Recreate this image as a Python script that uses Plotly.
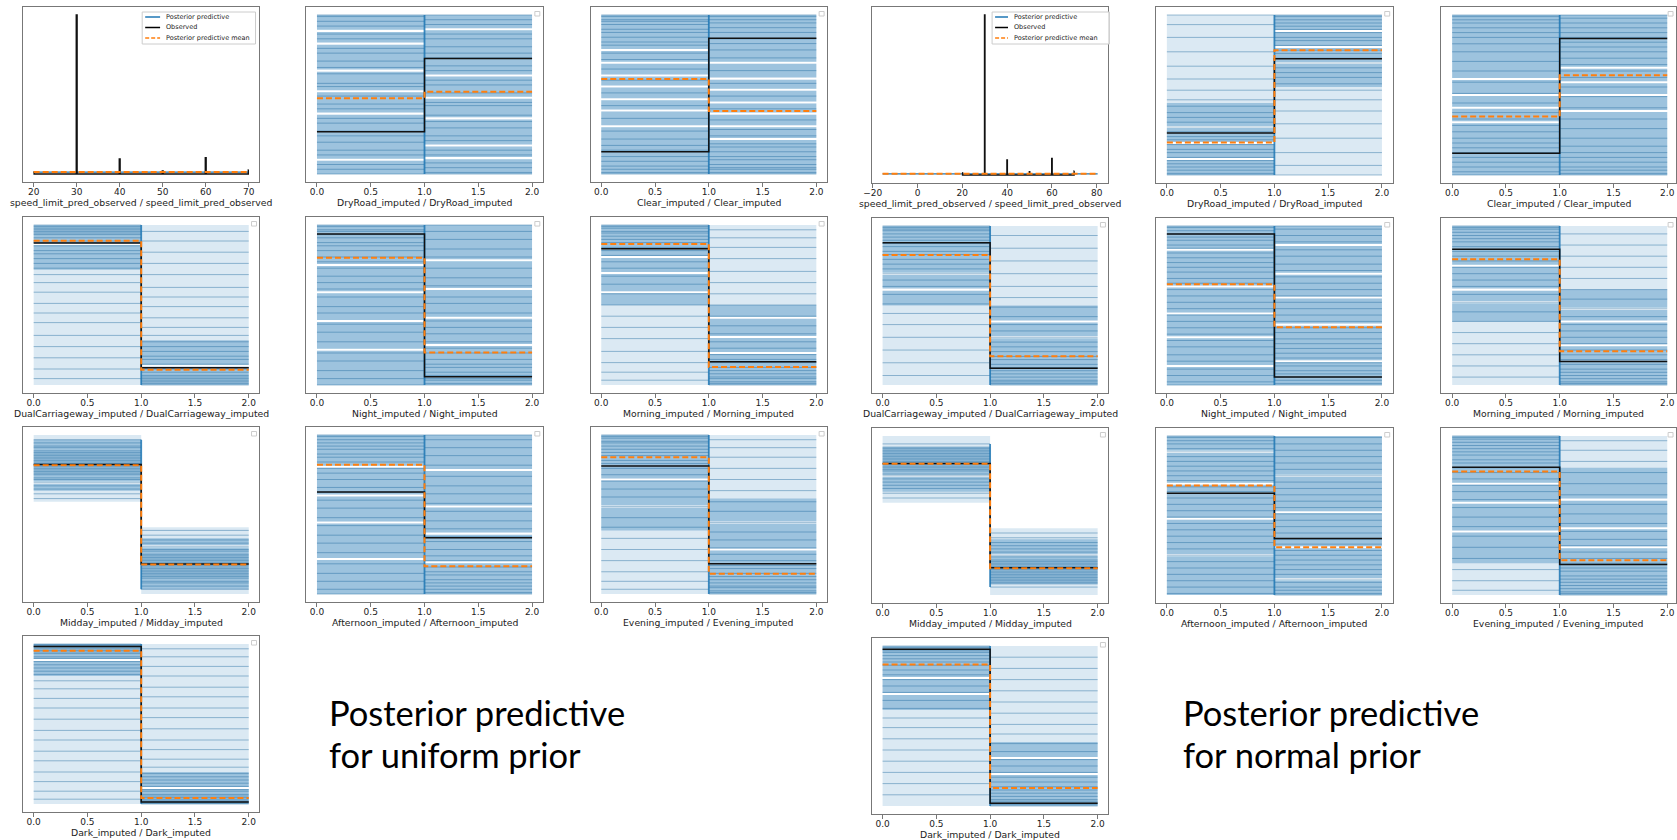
import plotly.graph_objects as go

W, H = 1677, 840

# ---------------- data ----------------
# speed limit panel (observed relative frequencies)
speed_values = [20, 30, 40, 50, 60, 70]
speed_observed = [0.012, 0.796, 0.075, 0.016, 0.082, 0.020]
speed_pp_span_uniform = [20, 70]
speed_pp_span_normal = [-15.6, 80.4]
speed_pp_level_uniform = 0.010
speed_pp_level_normal = 0.006

binary_names = ["DryRoad", "Clear", "DualCarriageway", "Night", "Morning",
                "Midday", "Afternoon", "Evening", "Dark"]

# binary panels: values in % of each panel's posterior-predictive range
# (the y axis carries no scale); "_0" = value over bin 0..1, "_1" = bin 1..2.
# Posterior predictive samples are given by their bin-0 value (bin 1 = 100 - it).
uniform_obs_0 = [26.6, 14.0, 88.8, 94.4, 85.1, 81.5, 64.2, 80.5, 98.5]
uniform_obs_1 = [72.7, 85.3, 10.8, 5.2, 14.5, 18.9, 35.4, 19.1, 1.3]
uniform_mean_0 = [47.6, 59.7, 90.2, 79.5, 88.2, 81.0, 81.3, 86.0, 95.8]
uniform_mean_1 = [51.8, 39.6, 9.5, 20.3, 11.2, 18.5, 17.4, 12.8, 3.8]
uniform_range_0 = [(0, 100), (0, 100), (0, 100), (0, 100), (0, 100), (58, 100), (0, 100), (0, 100), (0, 100)]
uniform_dense_0 = [(0, 100), (0, 100), (72, 100), (0, 100), (50, 100), (65, 97), (0, 100), (40, 100), (80, 100)]
uniform_sparse_0 = [[90, 82, 65, 52, 38, 9], [78, 70, 62, 55, 47, 40, 30], [88], [75, 58, 40, 22],
                    [80, 70, 58], [70], [80, 62, 45, 22], [72, 55], [90]]
uniform_samples_0 = [
    [100, 99, 96, 93, 88, 85, 79, 76, 71, 67, 63, 57, 55, 49, 44, 41, 35, 32, 27, 24, 20, 15, 12, 6, 3, 0],
    [100, 99, 97, 96, 94, 91, 89, 86, 83, 81, 76, 72, 66, 59, 51, 43, 35, 27, 22, 18, 15, 11, 8, 5, 3, 1, 0],
    [100, 99, 98, 97, 96, 95, 94, 92, 90, 89, 87, 84, 82, 79, 76, 73, 69, 64, 58, 51, 45, 39, 31, 24, 17, 10, 4],
    [100, 99, 97, 96, 94, 92, 89, 87, 84, 80, 77, 73, 68, 64, 60, 55, 49, 45, 38, 33, 27, 20, 15, 9, 4, 0],
    [100, 99, 98, 96, 95, 93, 91, 89, 86, 84, 81, 77, 73, 68, 63, 57, 50, 43, 36, 29, 21, 14, 8, 3],
    [97, 95, 93, 92, 90, 89, 88, 87, 86, 85, 84, 83, 82, 81, 80, 79, 78, 77, 76, 75, 73, 72, 70, 68, 66, 63, 60],
    [100, 99, 97, 95, 93, 91, 88, 86, 83, 79, 76, 72, 67, 64, 59, 54, 48, 43, 37, 32, 26, 19, 13, 8, 3, 0],
    [100, 99, 98, 96, 95, 93, 91, 89, 87, 84, 82, 79, 75, 71, 66, 61, 55, 48, 42, 35, 28, 21, 14, 8, 3],
    [100, 99.5, 99, 98.5, 98, 97, 96, 95, 94, 92, 91, 89, 87, 85, 83, 81, 77, 72, 66, 60, 53, 46, 40, 33, 27, 20, 14, 8, 3],
]

normal_obs_0 = [26.2, 13.6, 89.4, 95.0, 85.4, 82.7, 64.0, 80.4, 97.9]
normal_obs_1 = [72.7, 85.3, 10.6, 5.0, 14.8, 17.1, 35.6, 19.2, 1.7]
normal_mean_0 = [20.3, 36.5, 81.7, 63.4, 79.0, 82.5, 68.8, 77.7, 88.4]
normal_mean_1 = [78.0, 62.3, 18.1, 36.4, 21.2, 16.9, 30.0, 21.9, 11.2]
normal_range_0 = [(0, 100), (0, 100), (0, 100), (0, 100), (0, 100), (58, 100), (0, 100), (0, 100), (0, 100)]
normal_dense_0 = [(0, 45), (0, 100), (50, 100), (0, 100), (40, 100), (65, 93), (0, 100), (20, 100), (60, 100)]
normal_sparse_0 = [[30, 20, 10], [60, 50, 42, 33], [70, 60], [85, 62, 45, 30, 12], [75, 60, 52],
                   [75], [90, 70, 48, 25], [70, 58, 40], [80, 70]]
normal_samples_0 = [
    [100, 94, 86, 77, 68, 60, 53, 47, 43, 39, 36, 33, 30, 27, 24, 22, 19, 16, 14, 11, 9, 7, 5, 3, 1, 0],
    [100, 99, 97, 95, 92, 89, 86, 82, 77, 71, 65, 58, 51, 45, 39, 35, 31, 27, 23, 20, 17, 14, 11, 8, 5, 2, 0],
    [100, 99, 98, 97, 95, 93, 91, 89, 87, 84, 82, 79, 76, 73, 70, 66, 62, 57, 51, 45, 38, 30, 22, 14, 6],
    [100, 99, 97, 95, 93, 91, 88, 86, 83, 80, 77, 74, 71, 67, 64, 60, 56, 52, 48, 44, 40, 36, 32, 28, 24, 19, 15, 10, 6, 2, 0],
    [100, 99, 98, 96, 94, 92, 90, 87, 84, 81, 78, 74, 70, 66, 62, 57, 52, 46, 40, 33, 26, 19, 12, 5],
    [95, 93, 92, 91, 90, 89, 88, 87, 86, 85, 84, 83, 82, 81, 80, 79, 78, 76, 75, 73, 71, 69, 67, 64, 61],
    [100, 99, 97, 95, 92, 90, 87, 84, 81, 78, 75, 72, 68, 65, 61, 57, 53, 49, 45, 41, 37, 33, 29, 25, 21, 17, 13, 9, 5, 1],
    [100, 99, 98, 96, 94, 92, 90, 88, 85, 83, 80, 77, 73, 69, 65, 60, 55, 49, 43, 37, 30, 23, 16, 9, 3],
    [100, 99, 98, 97, 96, 94, 92, 90, 88, 85, 82, 79, 75, 71, 66, 61, 55, 49, 42, 35, 28, 21, 14, 7],
]

# ---------------- styling / layout ----------------
C0 = "#1f77b4"
ORANGE = "#ff7f0e"
FRAME = "#777777"
TXT = "#222222"
FONT = "DejaVu Sans"
PANEL_W = 238
GAP_W = 1.3
group_cols = {"uniform": [14, 299, 585], "normal": [868, 1154, 1441]}
group_rows = {"uniform": [(7, 182), (217, 393), (427, 602), (636, 812)],
              "normal": [(7, 183), (218, 393), (428, 603), (638, 814)]}

fig = go.Figure()
layout_axes = {}
annotations = []
shapes = []


def ax_names(n):
    s = "" if n == 1 else str(n)
    return "x" + s, "y" + s, "xaxis" + s, "yaxis" + s


def setup_axes(n, left, top, bottom, xr, yr, dtick, fmt, label):
    right = left + PANEL_W
    if right > W:
        per_px = (xr[1] - xr[0]) / PANEL_W
        xr = [xr[0], xr[0] + (W - left) * per_px]
        right = W
    xa, ya, xk, yk = ax_names(n)
    layout_axes[xk] = dict(
        domain=[left / W, right / W], range=xr, anchor=ya,
        showline=True, mirror=True, linecolor=FRAME, linewidth=1,
        ticks="outside", ticklen=3.5, tickwidth=1, tickcolor=FRAME,
        ticklabelstandoff=-2,
        tick0=0, dtick=dtick, tickformat=fmt,
        tickfont=dict(family=FONT, size=9, color=TXT),
        showgrid=False, zeroline=False)
    layout_axes[yk] = dict(
        domain=[1 - bottom / H, 1 - top / H], range=yr, anchor=xa,
        showline=True, mirror=True, linecolor=FRAME, linewidth=1,
        showticklabels=False, ticks="", showgrid=False, zeroline=False)
    annotations.append(dict(
        text=label, xref=xa + " domain", yref=ya + " domain", x=0.5, y=0,
        xanchor="center", yanchor="middle", yshift=-20, showarrow=False,
        font=dict(family=FONT, size=9.3, color=TXT)))
    return xa, ya


def add_speed_panel(n, left, top, bottom, pp_span, pp_level):
    lo = min(speed_values[0], pp_span[0])
    hi = max(speed_values[-1], pp_span[1])
    d = hi - lo
    ymax = max(speed_observed)
    xa, ya = setup_axes(n, left, top, bottom, [lo - 0.05 * d, hi + 0.05 * d],
                        [-0.05 * ymax, 1.05 * ymax], 10 if d < 70 else 20, "",
                        "speed_limit_pred_observed / speed_limit_pred_observed")
    fig.add_trace(go.Scatter(x=pp_span, y=[pp_level, pp_level], mode="lines",
                             line=dict(color=C0, width=1.2), xaxis=xa, yaxis=ya,
                             showlegend=False, hoverinfo="skip"))
    w = 0.1
    xs, ys = [], []
    for k, (v, h) in enumerate(zip(speed_values, speed_observed)):
        if k == 0:
            xs += [v, v + w, v + w]
            ys += [h, h, 0]
        elif k == len(speed_values) - 1:
            xs += [v - w, v - w, v]
            ys += [0, h, h]
        else:
            xs += [v - w, v - w, v + w, v + w]
            ys += [0, h, h, 0]
    fig.add_trace(go.Scatter(x=xs, y=ys, mode="lines",
                             line=dict(color="#111111", width=1.4), xaxis=xa, yaxis=ya,
                             showlegend=False, hoverinfo="skip"))
    fig.add_trace(go.Scatter(x=pp_span, y=[pp_level, pp_level], mode="lines",
                             line=dict(color=ORANGE, width=2, dash="6px,3px"),
                             xaxis=xa, yaxis=ya, showlegend=False, hoverinfo="skip"))


def band_paths(intervals):
    xs, ys = [], []
    for lo, hi in intervals:
        xs += [0, 1, 1, 0, 0, None, 1, 2, 2, 1, 1, None]
        ys += [lo, lo, hi, hi, lo, None, 100 - hi, 100 - hi, 100 - lo, 100 - lo, 100 - hi, None]
    return xs, ys


def split_band(lo, hi, gaps):
    cuts = sorted(g for g in gaps if lo < g < hi)
    out, cur = [], lo
    for g in cuts:
        out.append((cur, g - GAP_W / 2))
        cur = g + GAP_W / 2
    out.append((cur, hi))
    return out


def add_binary_panel(n, left, top, bottom, name, obs0, obs1, mean0, mean1, rng, dense, gaps, samples):
    xa, ya = setup_axes(n, left, top, bottom, [-0.1, 2.1], [-5, 105], 0.5, ".1f",
                        f"{name}_imputed / {name}_imputed")
    for ivs, col in ((split_band(rng[0], rng[1], gaps), "rgba(31,119,180,0.16)"),
                     (split_band(dense[0], dense[1], gaps), "rgba(31,119,180,0.33)")):
        bx, by = band_paths(ivs)
        fig.add_trace(go.Scatter(x=bx, y=by, mode="lines", fill="toself", fillcolor=col,
                                 line=dict(width=0), xaxis=xa, yaxis=ya,
                                 showlegend=False, hoverinfo="skip"))
    xs, ys = [], []
    for v in samples:
        xs += [0, 1, None, 1, 2, None]
        ys += [v, v, None, 100 - v, 100 - v, None]
    fig.add_trace(go.Scatter(x=xs, y=ys, mode="lines",
                             line=dict(color="rgba(25,100,155,0.42)", width=1),
                             xaxis=xa, yaxis=ya, showlegend=False, hoverinfo="skip"))
    vlo = min(min(samples), 100 - max(samples))
    vhi = max(max(samples), 100 - min(samples))
    fig.add_trace(go.Scatter(x=[1, 1], y=[vlo, vhi], mode="lines",
                             line=dict(color="rgba(31,119,180,0.85)", width=1.8),
                             xaxis=xa, yaxis=ya, showlegend=False, hoverinfo="skip"))
    fig.add_trace(go.Scatter(x=[0, 1, 1, 2], y=[obs0, obs0, obs1, obs1], mode="lines",
                             line=dict(color="#111111", width=1.5), xaxis=xa, yaxis=ya,
                             showlegend=False, hoverinfo="skip"))
    fig.add_trace(go.Scatter(x=[0, 1, 1, 2], y=[mean0, mean0, mean1, mean1], mode="lines",
                             line=dict(color=ORANGE, width=2, dash="6px,3px"),
                             xaxis=xa, yaxis=ya, showlegend=False, hoverinfo="skip"))
    shapes.append(dict(type="rect", xref=xa + " domain", yref=ya + " domain",
                       x0=1 - 8 / PANEL_W, x1=1 - 3 / PANEL_W,
                       y0=1 - 9 / 175, y1=1 - 4.5 / 175,
                       line=dict(color="#cccccc", width=1), fillcolor="white"))


groups = {
    "uniform": (uniform_obs_0, uniform_obs_1, uniform_mean_0, uniform_mean_1,
                uniform_range_0, uniform_dense_0, uniform_sparse_0, uniform_samples_0,
                speed_pp_span_uniform, speed_pp_level_uniform, 1),
    "normal": (normal_obs_0, normal_obs_1, normal_mean_0, normal_mean_1,
               normal_range_0, normal_dense_0, normal_sparse_0, normal_samples_0,
               speed_pp_span_normal, speed_pp_level_normal, 11),
}

for g, (o0, o1, m0, m1, rg, dn, gp, sm, span, lvl, start) in groups.items():
    cols = group_cols[g]
    rows = group_rows[g]
    for k in range(10):
        r, c = k // 3, k % 3
        left = cols[c]
        top, bottom = rows[r]
        n = start + k
        if k == 0:
            add_speed_panel(n, left, top, bottom, span, lvl)
        else:
            i = k - 1
            add_binary_panel(n, left, top, bottom, binary_names[i], o0[i], o1[i],
                             m0[i], m1[i], rg[i], dn[i], gp[i], sm[i])


def add_legend(x0, y0, x1, y1, lx0, lx1, tx, rows_y):
    shapes.append(dict(type="rect", xref="paper", yref="paper",
                       x0=x0 / W, x1=x1 / W, y0=1 - y1 / H, y1=1 - y0 / H,
                       line=dict(color="#cccccc", width=1), fillcolor="rgba(255,255,255,0.8)"))
    entries = [("Posterior predictive", C0, "solid"),
               ("Observed", "black", "solid"),
               ("Posterior predictive mean", ORANGE, "4px,2px")]
    for (txt, col, dash), ry in zip(entries, rows_y):
        shapes.append(dict(type="line", xref="paper", yref="paper",
                           x0=lx0 / W, x1=lx1 / W, y0=1 - ry / H, y1=1 - ry / H,
                           line=dict(color=col, width=1.5, dash=dash)))
        annotations.append(dict(text=txt, xref="paper", yref="paper", x=tx / W, y=1 - ry / H,
                                xanchor="left", yanchor="middle", showarrow=False,
                                font=dict(family=FONT, size=6.5, color=TXT)))


add_legend(134, 12, 248, 44, 137, 152, 156, [17, 27.5, 38])
add_legend(989, 12, 1107, 44, 992, 1005, 1009, [17, 27.5, 38])

for x, lines in ((320, ["Posterior predictive", "for uniform prior"]),
                 (1179, ["Posterior predictive", "for normal prior"])):
    for t, yc in zip(lines, [712, 754]):
        annotations.append(dict(text=t, xref="paper", yref="paper", x=x / W, y=1 - yc / H,
                                xanchor="left", yanchor="middle", showarrow=False,
                                font=dict(family="Lato", size=34.5, color="black")))

fig.update_layout(
    width=W, height=H, margin=dict(l=0, r=0, t=0, b=0),
    paper_bgcolor="white", plot_bgcolor="white", showlegend=False,
    annotations=annotations, shapes=shapes, **layout_axes)

fig.write_html("out.html")
